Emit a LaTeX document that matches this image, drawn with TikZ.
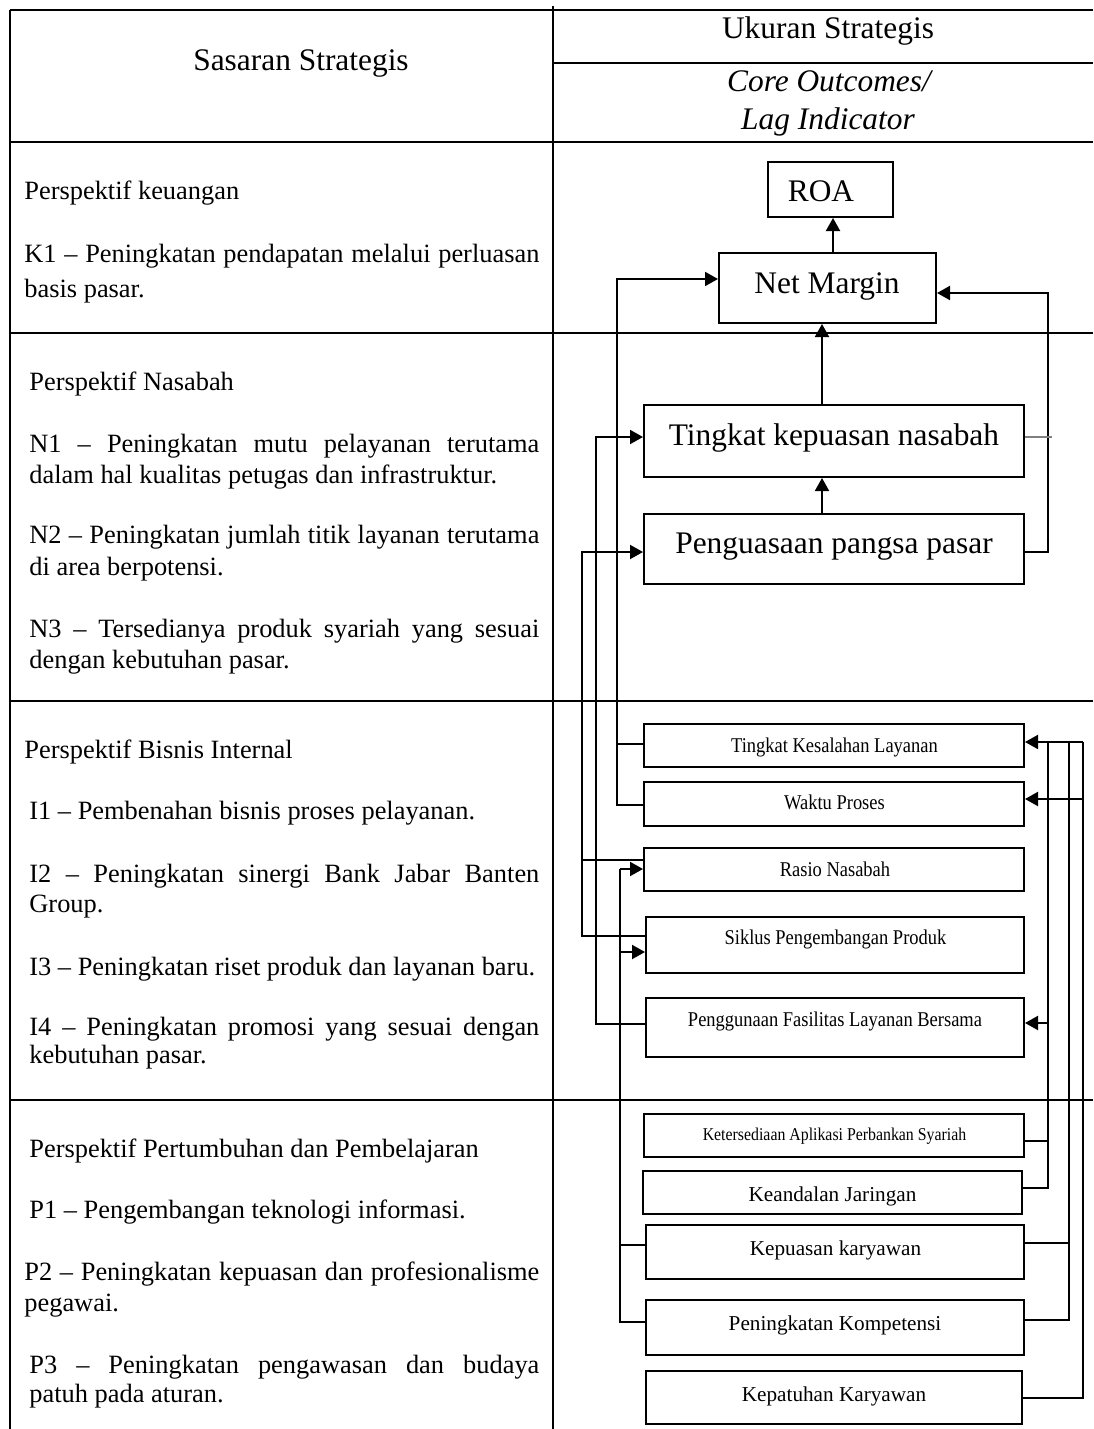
\documentclass[tikz,border=0pt]{standalone}
\usepackage{fontspec}
\setmainfont{Liberation Serif}
\newfontfamily\condserif[FakeStretch=0.88]{Liberation Serif}
\usetikzlibrary{arrows.meta,fit}
\newcommand\jlineA[1]{\makebox[257.5pt][s]{#1}}
\newcommand\jlineB[1]{\makebox[255pt][s]{#1}}
\begin{document}
\begin{tikzpicture}[x=0.5pt,y=-0.5pt,
  tline/.style={line width=0.9pt},
  bx/.style={draw, line width=1pt, inner sep=0pt},
  con/.style={line width=1pt},
  arr/.style={con, -{Triangle[length=6.5pt,width=7pt]}},
  lt/.style={anchor=base west, inner sep=0pt, font=\fontsize{13.2}{15.5}\selectfont},
  hd/.style={anchor=base, inner sep=0pt, font=\fontsize{15.7}{18}\selectfont},
  bigt/.style={anchor=base, inner sep=0pt, font=\fontsize{15.7}{18}\selectfont},
  smt/.style={anchor=base, inner sep=0pt, font=\condserif\fontsize{10.5}{12}\selectfont},
  tinyt/.style={anchor=base, inner sep=0pt, font=\condserif\fontsize{9}{11}\selectfont},
  medt/.style={anchor=base, inner sep=0pt, font=\fontsize{10.6}{12}\selectfont}
]
\useasboundingbox (0,0) rectangle (1093,1429);

% table grid
\draw[tline] (10,10) -- (1093,10);
\draw[tline] (10,10) -- (10,1429);
\draw[tline] (553,6) -- (553,1429);
\draw[tline] (553,63) -- (1093,63);
\draw[tline] (10,142) -- (1093,142);
\draw[tline] (10,333) -- (1093,333);
\draw[tline] (10,701) -- (1093,701);
\draw[tline] (10,1100) -- (1093,1100);

% header
\node[hd] (h1) at (301,71) {Sasaran Strategis};
\node[hd] (h2) at (828,39) {Ukuran Strategis};
\node[hd, font=\fontsize{15.7}{18}\selectfont\itshape] (h3) at (829,92) {Core Outcomes/};
\node[hd, font=\fontsize{15.7}{18}\selectfont\itshape] (h4) at (828,129) {Lag Indicator};

% left column text
\node[lt] (t1a) at (24,199) {Perspektif keuangan};
\node[lt] (t1b) at (24,262) {\jlineA{K1 – Peningkatan pendapatan melalui perluasan}};
\node[lt] (t1c) at (24,297) {basis pasar.};

\node[lt] (t2a) at (29,390) {Perspektif Nasabah};
\node[lt] (t2b) at (29,452) {\jlineB{N1 – Peningkatan mutu pelayanan terutama}};
\node[lt] (t2c) at (29,483) {dalam hal kualitas petugas dan infrastruktur.};
\node[lt] (t2d) at (29,543) {\jlineB{N2 – Peningkatan jumlah titik layanan terutama}};
\node[lt] (t2e) at (29,575) {di area berpotensi.};
\node[lt] (t2f) at (29,637) {\jlineB{N3 – Tersedianya produk syariah yang sesuai}};
\node[lt] (t2g) at (29,668) {dengan kebutuhan pasar.};

\node[lt] (t3a) at (24,758) {Perspektif Bisnis Internal};
\node[lt] (t3b) at (29,819) {I1 – Pembenahan bisnis proses pelayanan.};
\node[lt] (t3c) at (29,882) {\jlineB{I2 – Peningkatan sinergi Bank Jabar Banten}};
\node[lt] (t3d) at (29,912) {Group.};
\node[lt] (t3e) at (29,975) {I3 – Peningkatan riset produk dan layanan baru.};
\node[lt] (t3f) at (29,1035) {\jlineB{I4 – Peningkatan promosi yang sesuai dengan}};
\node[lt] (t3g) at (29,1063) {kebutuhan pasar.};

\node[lt] (t4a) at (29,1157) {Perspektif Pertumbuhan dan Pembelajaran};
\node[lt] (t4b) at (29,1218) {P1 – Pengembangan teknologi informasi.};
\node[lt] (t4c) at (24,1280) {\jlineA{P2 – Peningkatan kepuasan dan profesionalisme}};
\node[lt] (t4d) at (24,1311) {pegawai.};
\node[lt] (t4e) at (29,1373) {\jlineB{P3 – Peningkatan pengawasan dan budaya}};
\node[lt] (t4f) at (29,1402) {patuh pada aturan.};

% boxes
\node[bx, fit={(768,162)(893,217)}] (roa) {};
\node[bx, fit={(719,253)(936,323)}] (nm) {};
\node[bx, fit={(644,405)(1024,477)}] (tk) {};
\node[bx, fit={(644,514)(1024,584)}] (pp) {};
\node[bx, fit={(644,724)(1024,767)}] (tkl) {};
\node[bx, fit={(644,782)(1024,826)}] (wp) {};
\node[bx, fit={(644,848)(1024,891)}] (rn) {};
\node[bx, fit={(646,917)(1024,973)}] (sik) {};
\node[bx, fit={(646,998)(1024,1057)}] (pfl) {};
\node[bx, fit={(644,1114)(1024,1157)}] (kas) {};
\node[bx, fit={(643,1171)(1022,1214)}] (kj) {};
\node[bx, fit={(646,1225)(1024,1279)}] (kk) {};
\node[bx, fit={(646,1300)(1024,1355)}] (pk) {};
\node[bx, fit={(646,1371)(1022,1424)}] (kpt) {};

% box texts
\node[bigt] (roaT) at (821,201) {ROA};
\node[bigt] (nmT) at (827,293) {Net Margin};
\node[bigt] (tkT) at (834,445) {Tingkat kepuasan nasabah};
\node[bigt] (ppT) at (834,553) {Penguasaan pangsa pasar};
\node[smt] (tklT) at (834.5,752) {Tingkat Kesalahan Layanan};
\node[smt] (wpT) at (834.5,809) {Waktu Proses};
\node[smt] (rnT) at (835,876) {Rasio Nasabah};
\node[smt] (sikT) at (835.5,944) {Siklus Pengembangan Produk};
\node[smt] (pflT) at (835,1026) {Penggunaan Fasilitas Layanan Bersama};
\node[tinyt] (kasT) at (834.5,1140) {Ketersediaan Aplikasi Perbankan Syariah};
\node[medt] (kjT) at (832.5,1201) {Keandalan Jaringan};
\node[medt] (kkT) at (835.5,1255) {Kepuasan karyawan};
\node[medt] (pkT) at (835,1330) {Peningkatan Kompetensi};
\node[medt] (kptT) at (834,1401) {Kepatuhan Karyawan};

% junction coordinates
\coordinate (xm) at (833,0);
\coordinate (xn) at (822,0);
\coordinate (pL1) at (617,279);
\coordinate (pL2) at (617,805);
\coordinate (pL3) at (617,744);
\coordinate (pR1) at (1048,293);
\coordinate (pR2) at (1048,552);
\coordinate (pR3) at (1052,437);
\coordinate (pB1) at (596,437);
\coordinate (pB2) at (596,1024);
\coordinate (pA1) at (582,552);
\coordinate (pA2) at (582,936);
\coordinate (pA3) at (582,860);
\coordinate (pD1) at (620,869);
\coordinate (pD2) at (620,952);
\coordinate (pD3) at (620,1245);
\coordinate (pD4) at (620,1322);
\coordinate (qE1) at (1048,742);
\coordinate (qE2) at (1048,1188);
\coordinate (qE3) at (1048,1141);
\coordinate (qE4) at (1048,1023);
\coordinate (qF1) at (1069,742);
\coordinate (qF2) at (1069,1243);
\coordinate (qF3) at (1069,1320);
\coordinate (qG1) at (1083,742);
\coordinate (qG2) at (1083,1398);
\coordinate (qG3) at (1083,799);

% vertical chain
\draw[arr] (nm.north -| xm) -- (roa.south -| xm);
\draw[arr] (tk.north -| xn) -- (nm.south -| xn);
\draw[arr] (pp.north -| xn) -- (tk.south -| xn);

% left feeders
\draw[arr] (wp.west |- pL2) -- (pL2) -- (pL1) -- (nm.west |- pL1);
\draw[con] (tkl.west |- pL3) -- (pL3);
\draw[arr] (pfl.west |- pB2) -- (pB2) -- (pB1) -- (tk.west |- pB1);
\draw[arr] (sik.west |- pA2) -- (pA2) -- (pA1) -- (pp.west |- pA1);
\draw[con] (rn.west |- pA3) -- (pA3);
\draw[con] (pk.west |- pD4) -- (pD4) -- (pD1);
\draw[con] (kk.west |- pD3) -- (pD3);
\draw[arr] (pD1) -- (rn.west |- pD1);
\draw[arr] (pD2) -- (sik.west |- pD2);

% right feeders
\draw[arr] (pp.east |- pR2) -- (pR2) -- (pR1) -- (nm.east |- pR1);
\draw[con, gray] (tk.east |- pR3) -- (pR3);
\draw[arr] (qG1) -- (tkl.east |- qG1);
\draw[arr] (qG3) -- (wp.east |- qG3);
\draw[con] (kpt.east |- qG2) -- (qG2) -- (qG1);
\draw[con] (pk.east |- qF3) -- (qF3) -- (qF1);
\draw[con] (kk.east |- qF2) -- (qF2);
\draw[con] (kj.east |- qE2) -- (qE2) -- (qE1);
\draw[con] (kas.east |- qE3) -- (qE3);
\draw[arr] (qE4) -- (pfl.east |- qE4);
\end{tikzpicture}
\end{document}
